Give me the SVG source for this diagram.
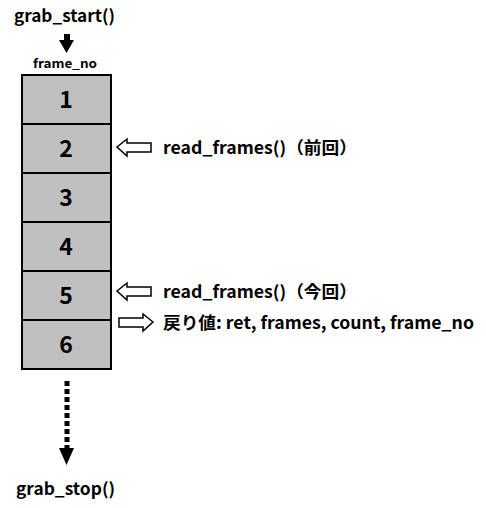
<svg xmlns="http://www.w3.org/2000/svg" width="486" height="508" viewBox="0 0 486 508">
<style>
.t{font-family:"Noto Sans CJK JP","Noto Sans",sans-serif;font-weight:bold;fill:#000}
.box{fill:#c0c0c0;stroke:#000;stroke-width:2}
.num{font-family:"Noto Sans CJK JP","Noto Sans",sans-serif;font-weight:bold;font-size:23px;text-anchor:middle}
.blk{fill:#fff;stroke:#000;stroke-width:1.5}
</style>
<rect width="486" height="508" fill="#fff"/>
<text class="t" x="14" y="22" font-size="17" textLength="101" lengthAdjust="spacingAndGlyphs">grab_start()</text>
<text class="t" x="33" y="68" font-size="12.5" textLength="64" lengthAdjust="spacingAndGlyphs">frame_no</text>
<g id="frame1"><rect class="box" x="22" y="75" width="89" height="49"/><text class="num" x="66" y="108">1</text></g>
<g id="frame2"><rect class="box" x="22" y="124" width="89" height="49"/><text class="num" x="66" y="157">2</text></g>
<g id="frame3"><rect class="box" x="22" y="173" width="89" height="49"/><text class="num" x="66" y="206">3</text></g>
<g id="frame4"><rect class="box" x="22" y="222" width="89" height="49"/><text class="num" x="66" y="255">4</text></g>
<g id="frame5"><rect class="box" x="22" y="271" width="89" height="49"/><text class="num" x="66" y="304">5</text></g>
<g id="frame6"><rect class="box" x="22" y="320" width="89" height="49"/><text class="num" x="66" y="353">6</text></g>
<g id="connectors">
<rect x="64" y="34" width="6" height="7" fill="#000"/>
<polygon points="59,40 74,40 66.5,53" fill="#000"/>
<line x1="67" y1="381" x2="67" y2="448" stroke="#000" stroke-width="5" stroke-dasharray="5,3"/>
<polygon points="59,448 74,448 66.5,465" fill="#000"/>
<polygon class="blk" points="117,147 127,139 127,143 151,143 151,152 127,152 127,156"/>
<polygon class="blk" points="117,291 127,283 127,287 151,287 151,296 127,296 127,300"/>
<polygon class="blk" points="153,322 143,314 143,318 119,318 119,327 143,327 143,331"/>
</g>
<text class="t" x="163" y="154" font-size="17" textLength="194" lengthAdjust="spacingAndGlyphs">read_frames()（前回）</text>
<text class="t" x="163" y="298" font-size="17" textLength="194" lengthAdjust="spacingAndGlyphs">read_frames()（今回）</text>
<text class="t" x="163" y="329" font-size="17" textLength="311" lengthAdjust="spacingAndGlyphs">戻り値: ret, frames, count, frame_no</text>
<text class="t" x="16" y="495" font-size="17" textLength="99" lengthAdjust="spacingAndGlyphs">grab_stop()</text>
</svg>
